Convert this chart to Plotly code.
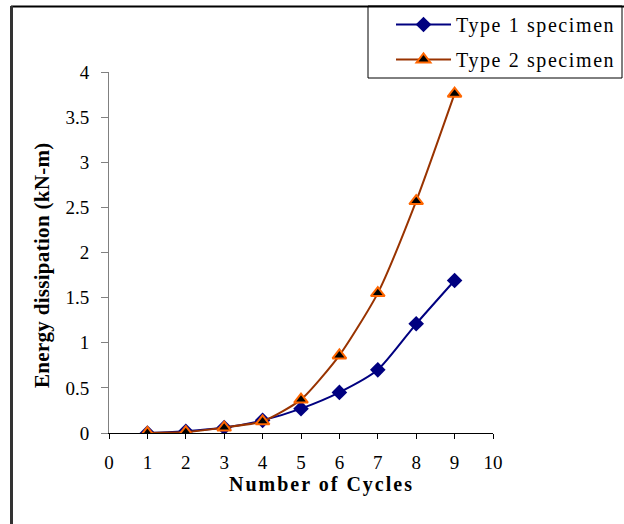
import plotly.graph_objects as go

cycles = [1, 2, 3, 4, 5, 6, 7, 8, 9]
type1 = [0.0, 0.02, 0.06, 0.14, 0.27, 0.45, 0.70, 1.21, 1.69]
type2 = [0.0, 0.01, 0.06, 0.13, 0.37, 0.86, 1.55, 2.57, 3.76]
names = ["Type 1 specimen", "Type 2 specimen"]
x_title = "Number of Cycles"
y_title = "Energy dissipation (kN-m)"

FONT = "Liberation Serif, Times New Roman, serif"
W, H = 624, 524
L, R, T, B = 109, 131, 72, 91
PW, PH = W - L - R, H - T - B


def px(xp):
    return (xp - L) / PW


def py(yp):
    return (H - B - yp) / PH


def spaced(s, sp):
    return '<span style="letter-spacing:%spx">%s</span>' % (sp, s)


fig = go.Figure()
fig.add_trace(go.Scatter(
    x=cycles, y=type1, name=spaced(names[0], 1.6), mode="lines+markers",
    legendgroup="a",
    line=dict(color="#000080", width=2, shape="spline", smoothing=0.6),
    marker=dict(symbol="diamond", size=12, color="#000080"),
))
fig.add_trace(go.Scatter(
    x=cycles, y=type2, name=spaced(names[1], 1.6), mode="lines+markers",
    legendgroup="b",
    line=dict(color="#993300", width=2, shape="spline", smoothing=0.6),
    marker=dict(symbol="triangle-up", size=12, color="black",
                line=dict(color="#FF6600", width=2)),
))

fig.update_layout(
    width=W, height=H,
    margin=dict(l=L, r=R, t=T, b=B, autoexpand=False),
    paper_bgcolor="white", plot_bgcolor="white",
    font=dict(family=FONT, size=18, color="black"),
    showlegend=True,
    legend=dict(xref="container", yref="container",
                x=391 / W, y=1 - 5 / H, xanchor="left", yanchor="top",
                borderwidth=0, bgcolor="rgba(0,0,0,0)",
                font=dict(family=FONT, size=20), itemwidth=55,
                traceorder="grouped", tracegroupgap=6),
    xaxis=dict(range=[0, 10], tickvals=list(range(11)), showgrid=False,
               zeroline=False, showline=True, linecolor="black", linewidth=1,
               ticks="outside", ticklen=5, tickcolor="black",
               tickfont=dict(size=19), ticklabelstandoff=7),
    yaxis=dict(range=[0, 4], tickvals=[0, 0.5, 1, 1.5, 2, 2.5, 3, 3.5, 4],
               ticktext=["0", "0.5", "1", "1.5", "2", "2.5", "3", "3.5", "4"],
               showgrid=False, zeroline=False, showline=True,
               linecolor="#808080", linewidth=1, ticks="outside", ticklen=7,
               tickcolor="#808080", tickfont=dict(size=19),
               ticklabelstandoff=8),
    annotations=[
        dict(text="<b>" + spaced(x_title, 2) + "</b>", xref="paper", yref="paper",
             x=px(321), y=py(484), xanchor="center", yanchor="middle",
             showarrow=False, font=dict(family=FONT, size=20)),
        dict(text="<b>" + spaced(y_title, 0.3) + "</b>", xref="paper", yref="paper",
             x=px(42), y=py(265), xanchor="center", yanchor="middle",
             textangle=-90, showarrow=False, font=dict(family=FONT, size=21)),
    ],
    shapes=[
        dict(type="rect", xref="paper", yref="paper",
             x0=px(368), x1=px(622), y0=py(6), y1=py(78),
             line=dict(color="black", width=1), fillcolor="rgba(0,0,0,0)"),
        dict(type="line", xref="paper", yref="paper",
             x0=px(11), x1=px(624), y0=py(6.5), y1=py(6.5),
             line=dict(color="black", width=2)),
        dict(type="line", xref="paper", yref="paper",
             x0=px(11.5), x1=px(11.5), y0=py(6), y1=py(524),
             line=dict(color="#333333", width=3)),
    ],
)

fig.write_html("out.html")
